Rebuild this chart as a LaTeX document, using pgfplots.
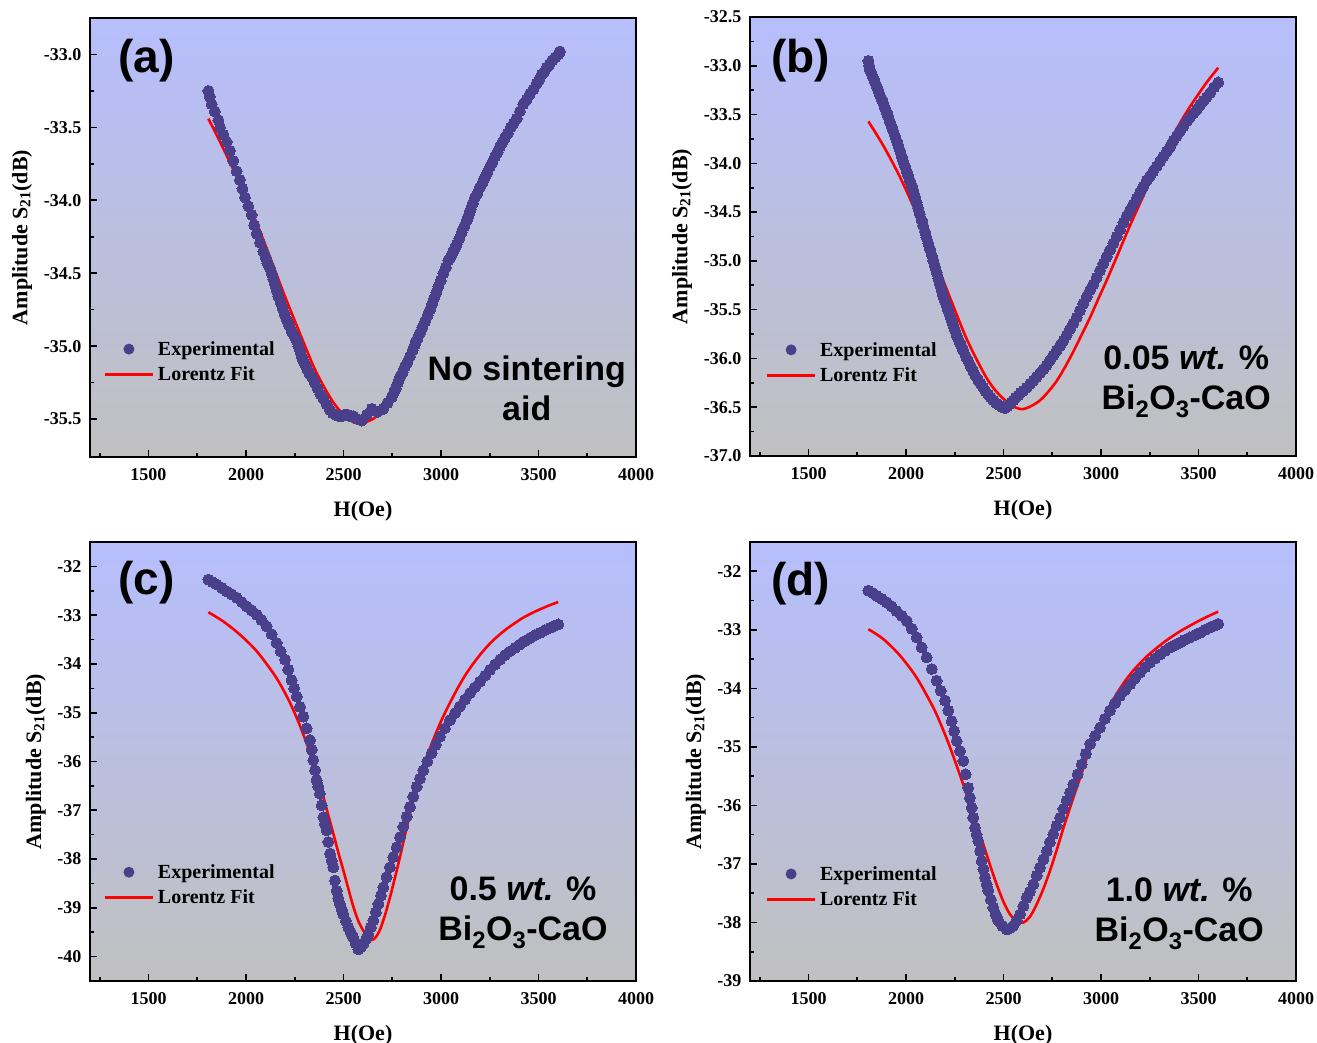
\documentclass[border=0pt]{standalone}
\usepackage{fontspec}
\setmainfont{Liberation Serif}
\newfontfamily\arialfont{Liberation Sans}
\usepackage{pgfplots}
\pgfplotsset{compat=1.18}
\definecolor{bgtop}{RGB}{182,190,253}
\definecolor{bgbot}{RGB}{192,192,192}
\definecolor{expcol}{RGB}{74,63,138}
\pgfplotsset{
  panel/.style={
    scale only axis, width=546pt, height=439pt,
    xmin=1200, xmax=4000,
    xtick={1500,2000,2500,3000,3500,4000},
    xticklabels={1500,2000,2500,3000,3500,4000},
    minor xtick={1250,1750,2250,2750,3250,3750},
    xtick pos=bottom, ytick pos=left, tick align=inside,
    major tick length=7pt, minor tick length=4pt,
    tick style={line width=1.6pt, black},
    axis line style={line width=2pt, black},
    ticklabel style={font=\fontsize{18}{20}\selectfont\bfseries},
    xticklabel style={yshift=-8pt},
    yticklabel style={xshift=-5pt},
    every axis x label/.style={at={(rel axis cs:0.5,-0.123)}, anchor=center, font=\fontsize{22}{24}\selectfont\bfseries},
    xlabel={H(Oe)},
    ylabel={Amplitude S\textsubscript{21}(dB)},
    axis background/.style={top color=bgtop, bottom color=bgbot},
    legend cell align=left,
    legend style={draw=none, fill=none, inner sep=0pt,
      font=\fontsize{20}{22}\selectfont\bfseries,
      row sep=8pt, nodes={inner sep=1pt},
      /tikz/every odd column/.append style={column sep=4pt},
      /tikz/every even column/.append style={column sep=4pt}},
  },
  ylabA/.style={every axis y label/.style={at={(rel axis cs:-0.1245,0.5)}, rotate=90, anchor=center, font=\fontsize{22}{24}\selectfont\bfseries}},
  ylabC/.style={every axis y label/.style={at={(rel axis cs:-0.099,0.5)}, rotate=90, anchor=center, font=\fontsize{22}{24}\selectfont\bfseries}},
  expplot/.style={only marks, mark=*, mark size=5.5pt, mark options={draw=expcol, fill=expcol, line width=0pt},
    legend image code/.code={\path[draw=none] (0pt,0pt) -- (48pt,0pt); \fill[expcol, draw=none] (24pt,0pt) circle (5.5pt);}},
  fitplot/.style={red, line width=2.6pt, smooth, no marks,
    legend image code/.code={\fill[red, draw=none] (0pt,-1.4pt) rectangle (48pt,1.4pt);}},
}
\begin{document}
\begin{tikzpicture}
\useasboundingbox (0pt,0pt) rectangle (1317pt,1043pt);
% ---------------- (a) ----------------
\begin{axis}[panel, ylabA, at={(90pt,586pt)}, anchor=south west,
  ymin=-35.76, ymax=-32.75,
  ytick={-35.5,-35.0,-34.5,-34.0,-33.5,-33.0},
  yticklabels={-35.5,-35.0,-34.5,-34.0,-33.5,-33.0},
  minor ytick={-35.25,-34.75,-34.25,-33.75,-33.25},
  legend style={at={(0.027,0.266)}, anchor=north west}]
\addplot[expplot] table {
1807 -33.25
1815 -33.29
1824 -33.34
1840 -33.39
1858 -33.45
1867 -33.50
1884 -33.55
1901 -33.60
1918 -33.66
1935 -33.73
1952 -33.80
1969 -33.86
1982 -33.92
1995 -33.98
2012 -34.04
2029 -34.10
2042 -34.17
2055 -34.23
2072 -34.29
2089 -34.35
2100 -34.39
2110 -34.43
2121 -34.46
2132 -34.50
2140 -34.54
2149 -34.58
2158 -34.62
2166 -34.66
2177 -34.70
2188 -34.74
2198 -34.78
2209 -34.82
2222 -34.86
2235 -34.90
2248 -34.93
2260 -34.96
2269 -35.00
2277 -35.03
2285 -35.07
2294 -35.10
2305 -35.13
2315 -35.16
2326 -35.19
2337 -35.21
2352 -35.25
2367 -35.29
2382 -35.33
2397 -35.36
2414 -35.40
2431 -35.44
2445 -35.46
2460 -35.47
2475 -35.48
2491 -35.48
2505 -35.47
2520 -35.47
2535 -35.48
2550 -35.48
2572 -35.50
2593 -35.51
2620 -35.47
2645 -35.43
2675 -35.45
2704 -35.43
2725 -35.39
2747 -35.35
2758 -35.32
2768 -35.29
2779 -35.25
2790 -35.21
2803 -35.18
2815 -35.14
2828 -35.11
2841 -35.07
2854 -35.03
2866 -34.99
2879 -34.95
2892 -34.91
2905 -34.87
2918 -34.83
2931 -34.79
2944 -34.75
2955 -34.71
2965 -34.67
2976 -34.63
2986 -34.59
2999 -34.55
3012 -34.50
3025 -34.46
3038 -34.41
3049 -34.39
3060 -34.36
3071 -34.33
3081 -34.30
3094 -34.26
3106 -34.22
3119 -34.18
3132 -34.14
3143 -34.10
3153 -34.06
3164 -34.02
3174 -33.98
3187 -33.95
3200 -33.91
3213 -33.88
3226 -33.84
3238 -33.81
3251 -33.77
3264 -33.74
3277 -33.70
3290 -33.67
3303 -33.63
3316 -33.60
3328 -33.57
3343 -33.54
3358 -33.50
3373 -33.47
3388 -33.44
3405 -33.39
3422 -33.34
3439 -33.31
3456 -33.27
3474 -33.24
3491 -33.20
3504 -33.17
3516 -33.14
3529 -33.12
3542 -33.09
3556 -33.07
3570 -33.04
3586 -33.02
3601 -33.00
3610 -32.98
};
\addlegendentry{Experimental}
\addplot[fitplot] table {
1807 -33.44
1900 -33.69
2000 -33.98
2100 -34.31
2200 -34.66
2300 -34.99
2350 -35.15
2400 -35.28
2450 -35.39
2500 -35.47
2550 -35.52
2590 -35.53
2650 -35.50
2700 -35.44
2750 -35.35
2800 -35.23
2850 -35.09
2900 -34.93
3000 -34.59
3100 -34.24
3200 -33.92
3300 -33.63
3400 -33.38
3500 -33.16
3610 -32.96
};
\addlegendentry{Lorentz Fit}
\node[font=\arialfont\bfseries\fontsize{46}{50}\selectfont] at (rel axis cs:0.104,0.902) {(a)};
\node[font=\arialfont\bfseries\fontsize{34}{40}\selectfont, align=center] at (rel axis cs:0.80,0.157) {No sintering\\aid};
\end{axis}
% ---------------- (b) ----------------
\begin{axis}[panel, ylabA, at={(750pt,587pt)}, anchor=south west,
  ymin=-37.0, ymax=-32.5,
  ytick={-37.0,-36.5,-36.0,-35.5,-35.0,-34.5,-34.0,-33.5,-33.0,-32.5},
  yticklabels={-37.0,-36.5,-36.0,-35.5,-35.0,-34.5,-34.0,-33.5,-33.0,-32.5},
  minor ytick={-36.75,-36.25,-35.75,-35.25,-34.75,-34.25,-33.75,-33.25,-32.75},
  legend style={at={(0.031,0.262)}, anchor=north west}]
\addplot[expplot] table {
1807 -32.95
1811 -33.00
1815 -33.04
1821 -33.07
1828 -33.10
1834 -33.13
1841 -33.17
1850 -33.21
1858 -33.25
1866 -33.30
1875 -33.34
1883 -33.38
1892 -33.43
1900 -33.47
1909 -33.52
1917 -33.57
1926 -33.62
1935 -33.67
1944 -33.72
1952 -33.77
1961 -33.82
1969 -33.87
1978 -33.93
1986 -33.98
1995 -34.03
2003 -34.08
2012 -34.13
2020 -34.18
2029 -34.23
2037 -34.28
2046 -34.34
2054 -34.40
2063 -34.46
2071 -34.52
2080 -34.58
2088 -34.64
2097 -34.70
2105 -34.76
2114 -34.82
2123 -34.88
2132 -34.94
2140 -35.00
2149 -35.06
2157 -35.12
2166 -35.18
2174 -35.24
2183 -35.30
2191 -35.36
2200 -35.41
2208 -35.46
2217 -35.51
2225 -35.56
2234 -35.61
2242 -35.66
2251 -35.71
2261 -35.77
2272 -35.82
2283 -35.87
2294 -35.92
2307 -35.98
2320 -36.03
2332 -36.08
2345 -36.13
2357 -36.18
2370 -36.22
2383 -36.26
2396 -36.30
2409 -36.34
2422 -36.37
2435 -36.40
2448 -36.43
2463 -36.46
2478 -36.48
2493 -36.50
2508 -36.51
2519 -36.49
2530 -36.47
2540 -36.45
2550 -36.43
2563 -36.40
2576 -36.38
2589 -36.35
2602 -36.33
2619 -36.30
2636 -36.26
2653 -36.23
2670 -36.19
2687 -36.15
2704 -36.11
2721 -36.07
2738 -36.02
2755 -35.97
2772 -35.92
2790 -35.87
2807 -35.82
2824 -35.76
2841 -35.70
2858 -35.64
2875 -35.58
2892 -35.51
2909 -35.44
2926 -35.37
2944 -35.30
2961 -35.24
2978 -35.17
2995 -35.10
3012 -35.03
3029 -34.96
3046 -34.89
3063 -34.82
3081 -34.75
3098 -34.68
3115 -34.61
3132 -34.54
3149 -34.48
3166 -34.42
3183 -34.36
3200 -34.30
3217 -34.24
3234 -34.18
3251 -34.13
3268 -34.08
3286 -34.03
3303 -33.98
3320 -33.93
3337 -33.88
3354 -33.83
3371 -33.77
3388 -33.72
3405 -33.67
3422 -33.62
3439 -33.57
3456 -33.53
3473 -33.49
3491 -33.45
3508 -33.40
3525 -33.36
3542 -33.32
3559 -33.28
3580 -33.22
3601 -33.17
};
\addlegendentry{Experimental}
\addplot[fitplot] table {
1807 -33.57
1884 -33.82
1969 -34.14
2055 -34.52
2140 -34.94
2226 -35.38
2311 -35.80
2396 -36.14
2440 -36.28
2482 -36.38
2540 -36.48
2593 -36.52
2640 -36.49
2687 -36.43
2730 -36.34
2773 -36.23
2815 -36.09
2858 -35.93
2900 -35.76
2944 -35.58
2986 -35.39
3029 -35.20
3072 -35.00
3114 -34.80
3157 -34.60
3200 -34.41
3243 -34.22
3286 -34.04
3328 -33.87
3371 -33.71
3413 -33.56
3456 -33.42
3500 -33.29
3542 -33.17
3601 -33.02
};
\addlegendentry{Lorentz Fit}
\node[font=\arialfont\bfseries\fontsize{46}{50}\selectfont] at (rel axis cs:0.093,0.900) {(b)};
\node[font=\arialfont\bfseries\fontsize{34}{40}\selectfont, align=center] at (rel axis cs:0.799,0.169) {0.05 \textit{wt.} \%\\Bi\textsubscript{2}O\textsubscript{3}-CaO};
\end{axis}
% ---------------- (c) ----------------
\begin{axis}[panel, ylabC, at={(90pt,62pt)}, anchor=south west,
  ymin=-40.5, ymax=-31.5,
  ytick={-40,-39,-38,-37,-36,-35,-34,-33,-32},
  yticklabels={-40,-39,-38,-37,-36,-35,-34,-33,-32},
  minor ytick={-39.5,-38.5,-37.5,-36.5,-35.5,-34.5,-33.5,-32.5},
  legend style={at={(0.027,0.268)}, anchor=north west}]
\addplot[expplot] table {
1807 -32.27
1828 -32.32
1850 -32.37
1875 -32.44
1901 -32.51
1926 -32.57
1952 -32.64
1978 -32.73
2004 -32.82
2029 -32.90
2055 -32.99
2080 -33.10
2106 -33.23
2132 -33.39
2157 -33.57
2178 -33.74
2200 -33.91
2217 -34.12
2234 -34.33
2247 -34.50
2260 -34.67
2277 -34.88
2294 -35.08
2311 -35.32
2328 -35.56
2337 -35.76
2345 -35.97
2354 -36.18
2362 -36.38
2371 -36.52
2379 -36.66
2388 -36.90
2397 -37.14
2405 -37.28
2414 -37.41
2422 -37.65
2431 -37.89
2440 -38.03
2448 -38.17
2456 -38.44
2465 -38.65
2473 -38.80
2482 -38.92
2490 -39.03
2499 -39.13
2512 -39.27
2525 -39.40
2538 -39.51
2550 -39.61
2563 -39.73
2576 -39.85
2589 -39.80
2602 -39.74
2615 -39.65
2627 -39.54
2640 -39.40
2653 -39.26
2666 -39.09
2679 -38.92
2692 -38.75
2704 -38.58
2721 -38.37
2738 -38.17
2755 -37.96
2773 -37.76
2790 -37.55
2807 -37.34
2824 -37.13
2841 -36.93
2858 -36.72
2875 -36.52
2892 -36.35
2909 -36.18
2930 -36.00
2952 -35.83
2973 -35.66
2995 -35.49
3020 -35.32
3046 -35.15
3072 -35.01
3097 -34.87
3123 -34.73
3149 -34.60
3174 -34.48
3200 -34.36
3226 -34.24
3251 -34.12
3277 -34.01
3303 -33.91
3328 -33.82
3354 -33.74
3380 -33.67
3405 -33.60
3430 -33.53
3456 -33.47
3482 -33.41
3508 -33.36
3533 -33.31
3559 -33.26
3580 -33.22
3601 -33.19
};
\addlegendentry{Experimental}
\addplot[fitplot] table {
1807 -32.94
1884 -33.13
1969 -33.40
2055 -33.74
2140 -34.19
2183 -34.47
2226 -34.80
2268 -35.18
2311 -35.63
2354 -36.15
2397 -36.73
2422 -37.10
2448 -37.48
2473 -37.86
2499 -38.23
2525 -38.61
2550 -38.97
2576 -39.27
2602 -39.47
2625 -39.60
2645 -39.66
2666 -39.60
2687 -39.45
2712 -39.16
2738 -38.79
2764 -38.38
2790 -37.95
2815 -37.51
2841 -37.07
2875 -36.55
2909 -36.11
2952 -35.64
2995 -35.22
3038 -34.86
3081 -34.53
3123 -34.24
3166 -33.99
3209 -33.77
3251 -33.58
3294 -33.42
3337 -33.28
3380 -33.16
3422 -33.05
3465 -32.96
3508 -32.88
3555 -32.80
3601 -32.73
};
\addlegendentry{Lorentz Fit}
\node[font=\arialfont\bfseries\fontsize{46}{50}\selectfont] at (rel axis cs:0.104,0.907) {(c)};
\node[font=\arialfont\bfseries\fontsize{34}{40}\selectfont, align=center] at (rel axis cs:0.793,0.155) {0.5 \textit{wt.} \%\\Bi\textsubscript{2}O\textsubscript{3}-CaO};
\end{axis}
% ---------------- (d) ----------------
\begin{axis}[panel, ylabC, at={(750pt,62pt)}, anchor=south west,
  ymin=-39, ymax=-31.5,
  ytick={-39,-38,-37,-36,-35,-34,-33,-32},
  yticklabels={-39,-38,-37,-36,-35,-34,-33,-32},
  minor ytick={-38.5,-37.5,-36.5,-35.5,-34.5,-33.5,-32.5},
  legend style={at={(0.031,0.264)}, anchor=north west}]
\addplot[expplot] table {
1807 -32.33
1828 -32.37
1850 -32.42
1875 -32.47
1901 -32.53
1926 -32.60
1952 -32.68
1978 -32.76
2004 -32.85
2029 -32.98
2055 -33.13
2080 -33.30
2106 -33.47
2132 -33.67
2157 -33.87
2178 -34.04
2200 -34.21
2217 -34.38
2234 -34.56
2247 -34.73
2260 -34.90
2277 -35.07
2294 -35.24
2306 -35.47
2319 -35.70
2328 -35.87
2337 -36.04
2345 -36.21
2354 -36.38
2362 -36.50
2371 -36.61
2380 -36.78
2388 -36.95
2397 -37.09
2405 -37.23
2414 -37.35
2422 -37.46
2435 -37.61
2448 -37.75
2460 -37.87
2473 -37.97
2494 -38.06
2516 -38.12
2533 -38.10
2550 -38.06
2567 -37.97
2585 -37.86
2602 -37.72
2619 -37.58
2636 -37.47
2653 -37.35
2670 -37.20
2687 -37.06
2705 -36.92
2722 -36.78
2738 -36.63
2755 -36.49
2772 -36.35
2790 -36.21
2807 -36.06
2824 -35.92
2841 -35.78
2858 -35.64
2880 -35.47
2901 -35.30
2922 -35.12
2944 -34.95
2970 -34.81
2995 -34.67
3020 -34.52
3046 -34.38
3072 -34.25
3097 -34.13
3123 -34.03
3149 -33.93
3174 -33.83
3200 -33.73
3226 -33.64
3251 -33.56
3277 -33.49
3303 -33.42
3328 -33.36
3354 -33.30
3380 -33.26
3405 -33.22
3430 -33.17
3456 -33.13
3482 -33.09
3508 -33.05
3533 -33.00
3559 -32.96
3580 -32.93
3601 -32.90
};
\addlegendentry{Experimental}
\addplot[fitplot] table {
1807 -32.99
1884 -33.16
1969 -33.44
2055 -33.82
2140 -34.33
2183 -34.65
2226 -35.01
2268 -35.40
2311 -35.81
2354 -36.24
2396 -36.66
2430 -37.01
2465 -37.35
2499 -37.64
2533 -37.86
2567 -37.98
2602 -38.00
2636 -37.90
2670 -37.69
2704 -37.43
2738 -37.12
2773 -36.76
2807 -36.39
2841 -36.04
2875 -35.70
2910 -35.36
2944 -35.03
2986 -34.70
3029 -34.40
3072 -34.14
3114 -33.92
3157 -33.73
3200 -33.57
3243 -33.43
3286 -33.31
3328 -33.20
3371 -33.10
3413 -33.01
3456 -32.93
3500 -32.85
3542 -32.78
3601 -32.69
};
\addlegendentry{Lorentz Fit}
\node[font=\arialfont\bfseries\fontsize{46}{50}\selectfont] at (rel axis cs:0.093,0.905) {(d)};
\node[font=\arialfont\bfseries\fontsize{34}{40}\selectfont, align=center] at (rel axis cs:0.786,0.153) {1.0 \textit{wt.} \%\\Bi\textsubscript{2}O\textsubscript{3}-CaO};
\end{axis}
\end{tikzpicture}
\end{document}
